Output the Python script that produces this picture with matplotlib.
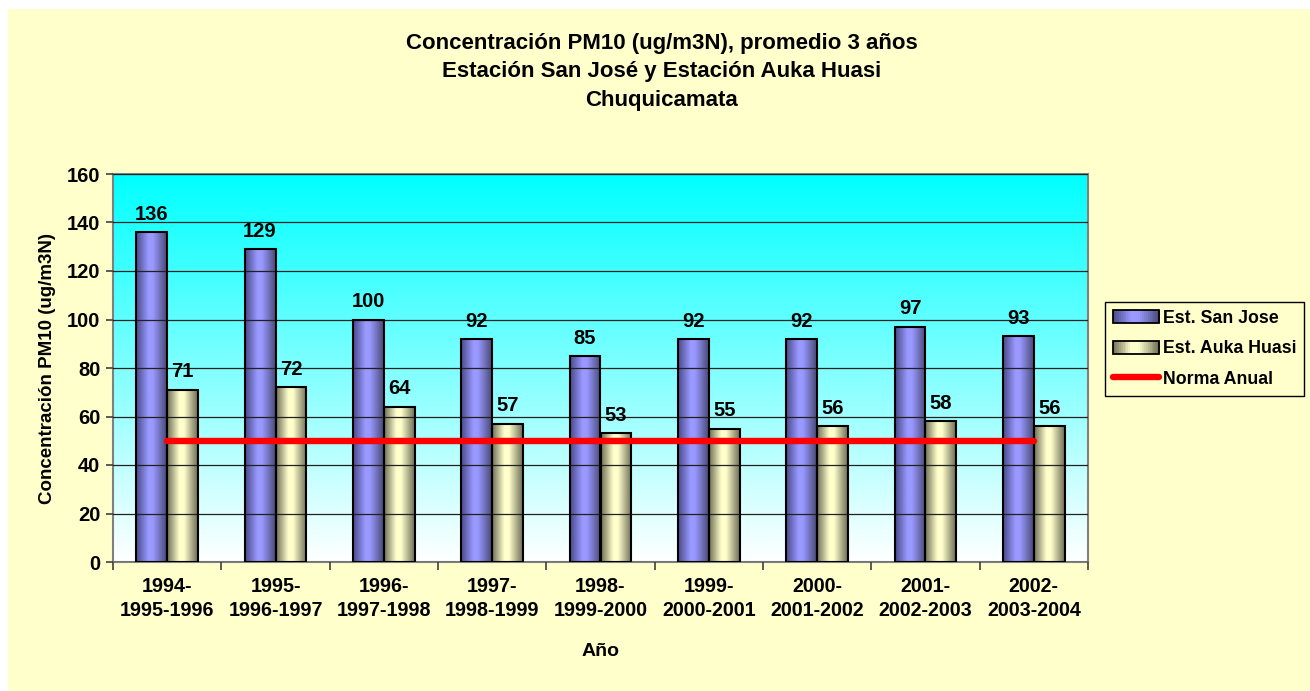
import matplotlib.pyplot as plt
import numpy as np
from matplotlib.colors import LinearSegmentedColormap
from matplotlib.patches import Rectangle
from matplotlib.lines import Line2D
from matplotlib.legend_handler import HandlerBase

plt.rcParams['font.family'] = ['Liberation Sans', 'DejaVu Sans']
plt.rcParams['font.weight'] = 'bold'

periods = ["1994-\n1995-1996", "1995-\n1996-1997", "1996-\n1997-1998",
           "1997-\n1998-1999", "1998-\n1999-2000", "1999-\n2000-2001",
           "2000-\n2001-2002", "2001-\n2002-2003", "2002-\n2003-2004"]
san_jose = [136, 129, 100, 92, 85, 92, 92, 97, 93]
auka_huasi = [71, 72, 64, 57, 53, 55, 56, 58, 56]
norma_anual = [50, 50, 50, 50, 50, 50, 50, 50, 50]

BG = '#FFFFCC'
cm_blue = LinearSegmentedColormap.from_list(
    'cyl_blue', [(0, '#4a4a8a'), (0.4, '#9999ff'), (0.55, '#9999ff'), (1, '#4a4a78')])
cm_beige = LinearSegmentedColormap.from_list(
    'cyl_beige', [(0, '#707058'), (0.4, '#ffffcc'), (0.55, '#ffffcc'), (1, '#6e6e58')])


class GradientHandle:
    def __init__(self, cmap):
        self.cmap = cmap


class HandlerGradient(HandlerBase):
    # draws the legend key as a shaded box like the bars
    def create_artists(self, legend, orig_handle, xdescent, ydescent, width, height,
                       fontsize, trans):
        n = 24
        arts = []
        for i in range(n):
            r = Rectangle((-xdescent + width * i / n, -ydescent), width / n + 0.3, height,
                          facecolor=orig_handle.cmap((i + 0.5) / n), edgecolor='none',
                          transform=trans)
            arts.append(r)
        arts.append(Rectangle((-xdescent, -ydescent), width, height, facecolor='none',
                              edgecolor='black', lw=1.3, transform=trans))
        return arts


fig = plt.figure(figsize=(13.1, 6.91), dpi=100, facecolor='white')
fig.patches.append(Rectangle((8 / 1310, 0), 1, 1 - 9 / 691, transform=fig.transFigure,
                             facecolor=BG, edgecolor='none', zorder=-10))

ax = fig.add_axes([113 / 1310, 1 - 562 / 691, 975 / 1310, 388 / 691])
ax.set_facecolor('white')

# plot area gradient: cyan on top fading to white
grad = np.linspace(0, 1, 256).reshape(-1, 1)
bg_cmap = LinearSegmentedColormap.from_list('bg', ['#ffffff', '#00ffff'])
ax.imshow(grad, cmap=bg_cmap, extent=[0, 1, 0, 1], transform=ax.transAxes,
          aspect='auto', origin='lower', zorder=0)

x = np.arange(len(periods))
w = 0.286
bars1 = ax.bar(x - w / 2, san_jose, w, facecolor='none', edgecolor='black', lw=1.5, zorder=3)
bars2 = ax.bar(x + w / 2, auka_huasi, w, facecolor='none', edgecolor='black', lw=1.5, zorder=3)

shade = np.linspace(0, 1, 64).reshape(1, -1)
for bars, cm in ((bars1, cm_blue), (bars2, cm_beige)):
    for b in bars:
        x0, y0 = b.get_x(), b.get_y()
        ax.imshow(shade, cmap=cm, extent=[x0, x0 + b.get_width(), y0, y0 + b.get_height()],
                  aspect='auto', zorder=2)

for bars, vals in ((bars1, san_jose), (bars2, auka_huasi)):
    for b, v in zip(bars, vals):
        ax.annotate(f"{v}", (b.get_x() + b.get_width() / 2, v), xytext=(0, 6),
                    textcoords='offset points', ha='center', va='bottom',
                    fontsize=14.5, fontweight='bold', zorder=5)

ax.plot(x, norma_anual, color='#ff0000', lw=4.6, solid_capstyle='round', zorder=4)

ax.set_xlim(-0.5, len(periods) - 0.5)
ax.set_ylim(0, 160)
ax.set_aspect('auto')
ax.set_yticks(np.arange(0, 161, 20))
ax.yaxis.grid(True, color='#202020', lw=0.9, zorder=1)
ax.set_axisbelow(False)
for gl in ax.get_ygridlines():
    gl.set_zorder(1)

ax.set_xticks(np.arange(-0.5, len(periods), 1))
ax.set_xticklabels([])
ax.set_xticks(x, minor=True)
ax.set_xticklabels(periods, minor=True, fontsize=14.2, fontweight='bold', linespacing=1.3)
ax.tick_params(axis='x', which='minor', length=0, pad=11)
ax.tick_params(axis='x', which='major', length=6, width=1.2, color='#404040')
ax.tick_params(axis='y', length=5, width=1.2, color='#404040', labelsize=14.5, pad=4)
for lbl in ax.get_yticklabels():
    lbl.set_fontweight('bold')

for s in ax.spines.values():
    s.set_color('#808080')
    s.set_linewidth(1.5)

ax.set_xlabel("Año", fontsize=14, fontweight='bold', labelpad=17)
ax.set_ylabel("Concentración PM10 (ug/m3N)", fontsize=13.5, fontweight='bold', labelpad=8)

fig.text(662 / 1310, 1 - 72 / 691,
         "Concentración PM10 (ug/m3N), promedio 3 años\nEstación San José y Estación Auka Huasi\nChuquicamata",
         ha='center', va='center', fontsize=16, fontweight='bold', linespacing=1.45)

handles = [GradientHandle(cm_blue), GradientHandle(cm_beige),
           Line2D([0], [0], color='#ff0000', lw=4.6, solid_capstyle='round')]
leg = fig.legend(handles, ["Est. San Jose", "Est. Auka Huasi", "Norma Anual"],
                 handler_map={GradientHandle: HandlerGradient()},
                 loc='upper left', bbox_to_anchor=(1105 / 1310, 1 - 302 / 691),
                 fontsize=12.8, frameon=True, fancybox=False, edgecolor='black',
                 facecolor=BG, framealpha=1, handlelength=2.6, handleheight=0.75,
                 handletextpad=0.2, borderpad=0.45, labelspacing=0.75, borderaxespad=0)
leg.get_frame().set_linewidth(1.0)

fig.savefig('out.png', dpi=100, facecolor=fig.get_facecolor())
